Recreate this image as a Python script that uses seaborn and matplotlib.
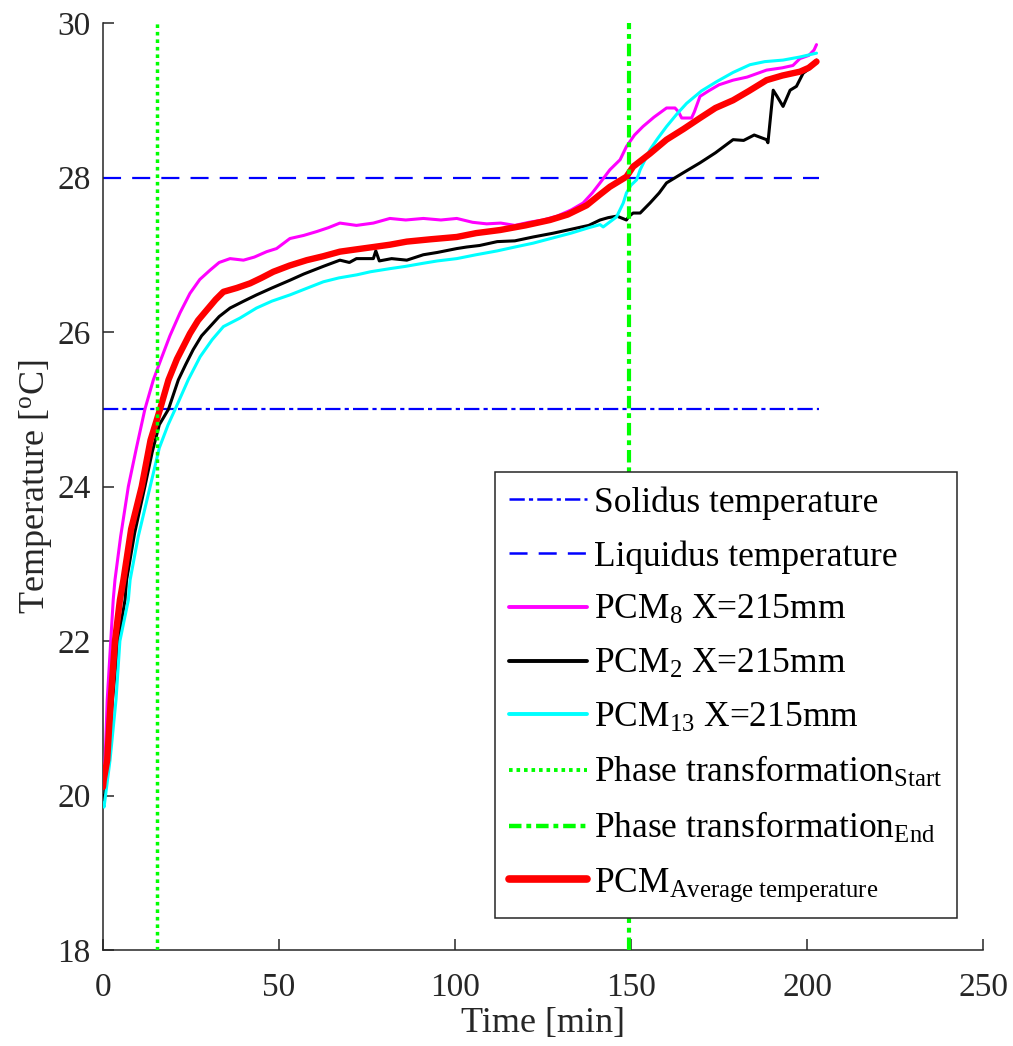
import numpy as np
import pandas as pd
import matplotlib
matplotlib.use("Agg")
import matplotlib.pyplot as plt
import seaborn as sns
from matplotlib.lines import Line2D

# ---------------- data ----------------
pcm8_t = [0, 0.6, 1.2, 2.2, 2.9, 3.4, 5.0, 7.2, 9.5, 11.9, 14.3, 16.5, 19.0, 21.9, 24.7, 27.5, 30.4, 33.0, 36.1, 39.9,
          43.0, 46.5, 49.3, 53.1, 57.0, 60.7, 64.0, 67.3, 72.0, 76.8, 81.5, 86.0, 91.0, 96.0, 100.5, 105.0, 109.0, 113.0,
          117.0, 121.0, 125.0, 129.0, 133.0, 136.4, 139.0, 141.2, 144.0, 146.9, 148.7, 151.0, 153.4, 156.5, 160.1, 162.5,
          163.5, 164.4, 167.2, 168.0, 169.6, 172.0, 175.0, 179.0, 183.0, 188.5, 193.0, 196.0, 198.0, 200.5, 202.0, 202.7]
pcm8_T = [20.2, 20.46, 21.24, 22.0, 22.53, 22.79, 23.35, 24.0, 24.5, 25.0, 25.38, 25.65, 25.95, 26.25, 26.5, 26.68,
          26.8, 26.9, 26.95, 26.93, 26.97, 27.04, 27.08, 27.21, 27.25, 27.3, 27.35, 27.41, 27.38, 27.41, 27.47, 27.45,
          27.47, 27.45, 27.47, 27.42, 27.4, 27.41, 27.38, 27.42, 27.45, 27.5, 27.58, 27.67, 27.8, 27.93, 28.1, 28.23,
          28.4, 28.55, 28.66, 28.78, 28.9, 28.9, 28.85, 28.77, 28.77, 28.85, 29.05, 29.12, 29.2, 29.26, 29.3, 29.39,
          29.42, 29.45, 29.54, 29.58, 29.65, 29.72]

pcm2_t = [0, 0.3, 1.5, 2.7, 4.3, 6.25, 6.7, 9.0, 11.9, 14.0, 16.0, 18.6, 21.4, 23.5, 25.6, 28.0, 30.4, 33.0, 36.1, 40.0,
          43.6, 48.0, 53.1, 57.0, 62.6, 67.3, 70.0, 72.0, 76.8, 77.5, 78.5, 82.0, 86.3, 91.0, 95.0, 100.5, 103.3, 107.0,
          112.0, 117.0, 122.2, 128.0, 133.0, 138.0, 141.2, 143.5, 146.0, 148.7, 149.5, 150.6, 152.6, 155.4, 158.0,
          160.1, 164.8, 169.6, 174.0, 179.0, 182.0, 185.0, 188.5, 188.9, 190.4, 191.5, 193.2, 195.2, 197.0, 198.9,
          201.0, 202.7]
pcm2_T = [20.0, 19.92, 20.46, 21.24, 22.0, 22.53, 22.79, 23.4, 24.0, 24.45, 24.8, 25.0, 25.38, 25.58, 25.77, 25.95,
          26.07, 26.2, 26.31, 26.4, 26.48, 26.57, 26.67, 26.75, 26.85, 26.93, 26.9, 26.95, 26.95, 27.05, 26.92, 26.95,
          26.93, 27.0, 27.03, 27.08, 27.1, 27.12, 27.17, 27.18, 27.23, 27.28, 27.33, 27.38, 27.45, 27.48, 27.5, 27.45,
          27.5, 27.54, 27.54, 27.67, 27.8, 27.93, 28.06, 28.19, 28.32, 28.49, 28.48, 28.55, 28.49, 28.45, 29.13, 29.05,
          28.92, 29.13, 29.18, 29.35, 29.42, 29.52]

pcm13_t = [0, 0.3, 2.0, 3.7, 4.8, 7.2, 7.7, 10.0, 13.4, 16.0, 18.5, 20.5, 24.2, 27.6, 31.0, 34.2, 38.9, 43.6, 48.0,
           53.1, 57.0, 62.6, 67.0, 72.1, 76.0, 81.5, 86.0, 91.0, 95.0, 100.5, 106.0, 112.0, 117.0, 122.2, 128.0, 133.0,
           138.0, 141.2, 142.1, 145.9, 147.8, 148.7, 150.0, 151.6, 152.6, 155.4, 157.5, 160.1, 163.0, 165.8, 170.0,
           174.3, 179.0, 183.8, 188.0, 193.2, 198.0, 202.7]
pcm13_T = [19.9, 19.85, 20.46, 21.24, 22.0, 22.53, 22.79, 23.35, 24.0, 24.5, 24.8, 25.0, 25.38, 25.68, 25.9, 26.07,
           26.18, 26.31, 26.4, 26.48, 26.55, 26.65, 26.7, 26.74, 26.78, 26.82, 26.85, 26.89, 26.92, 26.95, 27.0, 27.05,
           27.1, 27.15, 27.22, 27.28, 27.35, 27.39, 27.36, 27.49, 27.67, 27.8, 27.9, 27.97, 28.1, 28.36, 28.5, 28.66,
           28.82, 28.96, 29.12, 29.24, 29.36, 29.46, 29.5, 29.52, 29.56, 29.61]

avg_t = [0, 0.2, 1.2, 2.2, 3.4, 4.8, 5.8, 8.0, 11.0, 13.5, 16.2, 18.6, 21.0, 24.7, 27.0, 29.4, 32.0, 34.2, 38.0, 41.8,
         45.0, 48.4, 53.0, 57.9, 62.5, 67.3, 72.0, 76.8, 81.5, 86.3, 93.0, 100.5, 106.0, 112.8, 120.0, 127.0, 132.0,
         137.4, 141.2, 144.0, 148.7, 150.6, 155.4, 160.1, 165.0, 169.6, 174.0, 179.0, 183.5, 188.5, 193.0, 198.0,
         200.5, 202.7]
avg_T = [20.11, 20.2, 20.46, 21.24, 22.0, 22.53, 22.79, 23.45, 24.0, 24.6, 25.0, 25.38, 25.65, 25.98, 26.15, 26.28,
         26.42, 26.52, 26.57, 26.63, 26.7, 26.78, 26.86, 26.93, 26.98, 27.04, 27.07, 27.10, 27.13, 27.17, 27.2, 27.23,
         27.28, 27.32, 27.38, 27.45, 27.52, 27.64, 27.78, 27.88, 28.01, 28.14, 28.31, 28.49, 28.63, 28.77, 28.9, 29.0,
         29.12, 29.26, 29.32, 29.37, 29.42, 29.5]

ref_span_t = [0, 203.5]
solidus_T = 25.0
liquidus_T = 28.0
phase_start_t = 15.3
phase_end_t = 149.5

x_ticks = [0, 50, 100, 150, 200, 250]
y_ticks = [18, 20, 22, 24, 26, 28, 30]

labels = {
    "solidus": "Solidus temperature",
    "liquidus": "Liquidus temperature",
    "pcm8": r"PCM$_{\mathrm{8}}$ X=215mm",
    "pcm2": r"PCM$_{\mathrm{2}}$ X=215mm",
    "pcm13": r"PCM$_{\mathrm{13}}$ X=215mm",
    "start": r"Phase transformation$_{\mathrm{Start}}$",
    "end": r"Phase transformation$_{\mathrm{End}}$",
    "avg": r"PCM$_{\mathrm{Average\ temperature}}$",
}

# ---------------- style ----------------
sns.set_style("ticks")
plt.rcParams["font.family"] = ["Liberation Serif", "DejaVu Serif"]
plt.rcParams["mathtext.fontset"] = "custom"
plt.rcParams["mathtext.rm"] = "Liberation Serif"
plt.rcParams["mathtext.it"] = "Liberation Serif:italic"
plt.rcParams["mathtext.bf"] = "Liberation Serif:bold"
plt.rcParams["lines.scale_dashes"] = False

dark = "#262626"
fig = plt.figure(figsize=(10.13, 10.46), dpi=100)
ax = fig.add_axes([103 / 1013, 96 / 1046, 880 / 1013, 927 / 1046])

# reference lines
ref_df = pd.DataFrame({"t": ref_span_t, "sol": [solidus_T] * 2, "liq": [liquidus_T] * 2})
sns.lineplot(data=ref_df, x="t", y="sol", ax=ax, color="#0000FF", lw=1.6, zorder=2, estimator=None)
ax.lines[-1].set_dashes((11, 3, 3, 3))
sns.lineplot(data=ref_df, x="t", y="liq", ax=ax, color="#0000FF", lw=1.6, zorder=2, estimator=None)
ax.lines[-1].set_dashes((13, 8))

series = [
    ("pcm8", pcm8_t, pcm8_T, "#FF00FF", 2.2, 3),
    ("pcm2", pcm2_t, pcm2_T, "#000000", 2.2, 3),
    ("pcm13", pcm13_t, pcm13_T, "#00FFFF", 2.2, 3),
    ("avg", avg_t, avg_T, "#FF0000", 4.6, 4),
]
for key, t, T, c, lw, z in series:
    df = pd.DataFrame({"t": t, "T": T})
    sns.lineplot(data=df, x="t", y="T", ax=ax, color=c, lw=lw, zorder=z, estimator=None, sort=False)

ax.axvline(phase_start_t, color="#00FF00", lw=2.5, zorder=5, dashes=(2.6, 2.8))
ax.axvline(phase_end_t, color="#00FF00", lw=3.0, zorder=5, dashes=(9, 3.5, 3.5, 3.5))

ax.set_xlim(0, 250)
ax.set_ylim(18, 30)
ax.set_xticks(x_ticks)
ax.set_yticks(y_ticks)
ax.set_xlabel("Time [min]", fontsize=26, color=dark, labelpad=3)
ax.set_ylabel(r"Temperature [$^{\mathrm{o}}$C]", fontsize=26, color=dark, labelpad=2)
ax.tick_params(direction="in", length=8, width=1.1, colors=dark, labelsize=24, pad=9)
ax.tick_params(axis="x", pad=16)
for s in ["top", "right"]:
    ax.spines[s].set_visible(False)
for s in ["left", "bottom"]:
    ax.spines[s].set_color(dark)
    ax.spines[s].set_linewidth(1.1)

# legend
handles = [
    Line2D([], [], color="#0000FF", lw=1.8, dashes=(11, 3, 3, 3)),
    Line2D([], [], color="#0000FF", lw=1.8, dashes=(13, 8)),
    Line2D([], [], color="#FF00FF", lw=2.8),
    Line2D([], [], color="#000000", lw=2.8),
    Line2D([], [], color="#00FFFF", lw=2.8),
    Line2D([], [], color="#00FF00", lw=2.8, dashes=(2.6, 2.8)),
    Line2D([], [], color="#00FF00", lw=3.2, dashes=(9, 3.5, 3.5, 3.5)),
    Line2D([], [], color="#FF0000", lw=5.5),
]
lab = [labels[k] for k in ["solidus", "liquidus", "pcm8", "pcm2", "pcm13", "start", "end", "avg"]]
leg = ax.legend(handles, lab, loc="upper right", bbox_to_anchor=(957 / 1013, 1 - 472 / 1046),
                bbox_transform=fig.transFigure, fontsize=25.5, frameon=True, fancybox=False,
                handlelength=2.2, handletextpad=0.2, labelspacing=0.58, borderpad=0.4,
                borderaxespad=0.0)
leg.get_frame().set_edgecolor(dark)
leg.get_frame().set_linewidth(1.1)
leg.get_frame().set_alpha(1)
for txt in leg.get_texts():
    txt.set_color("black")

fig.savefig("out.png", dpi=100, facecolor="white")
